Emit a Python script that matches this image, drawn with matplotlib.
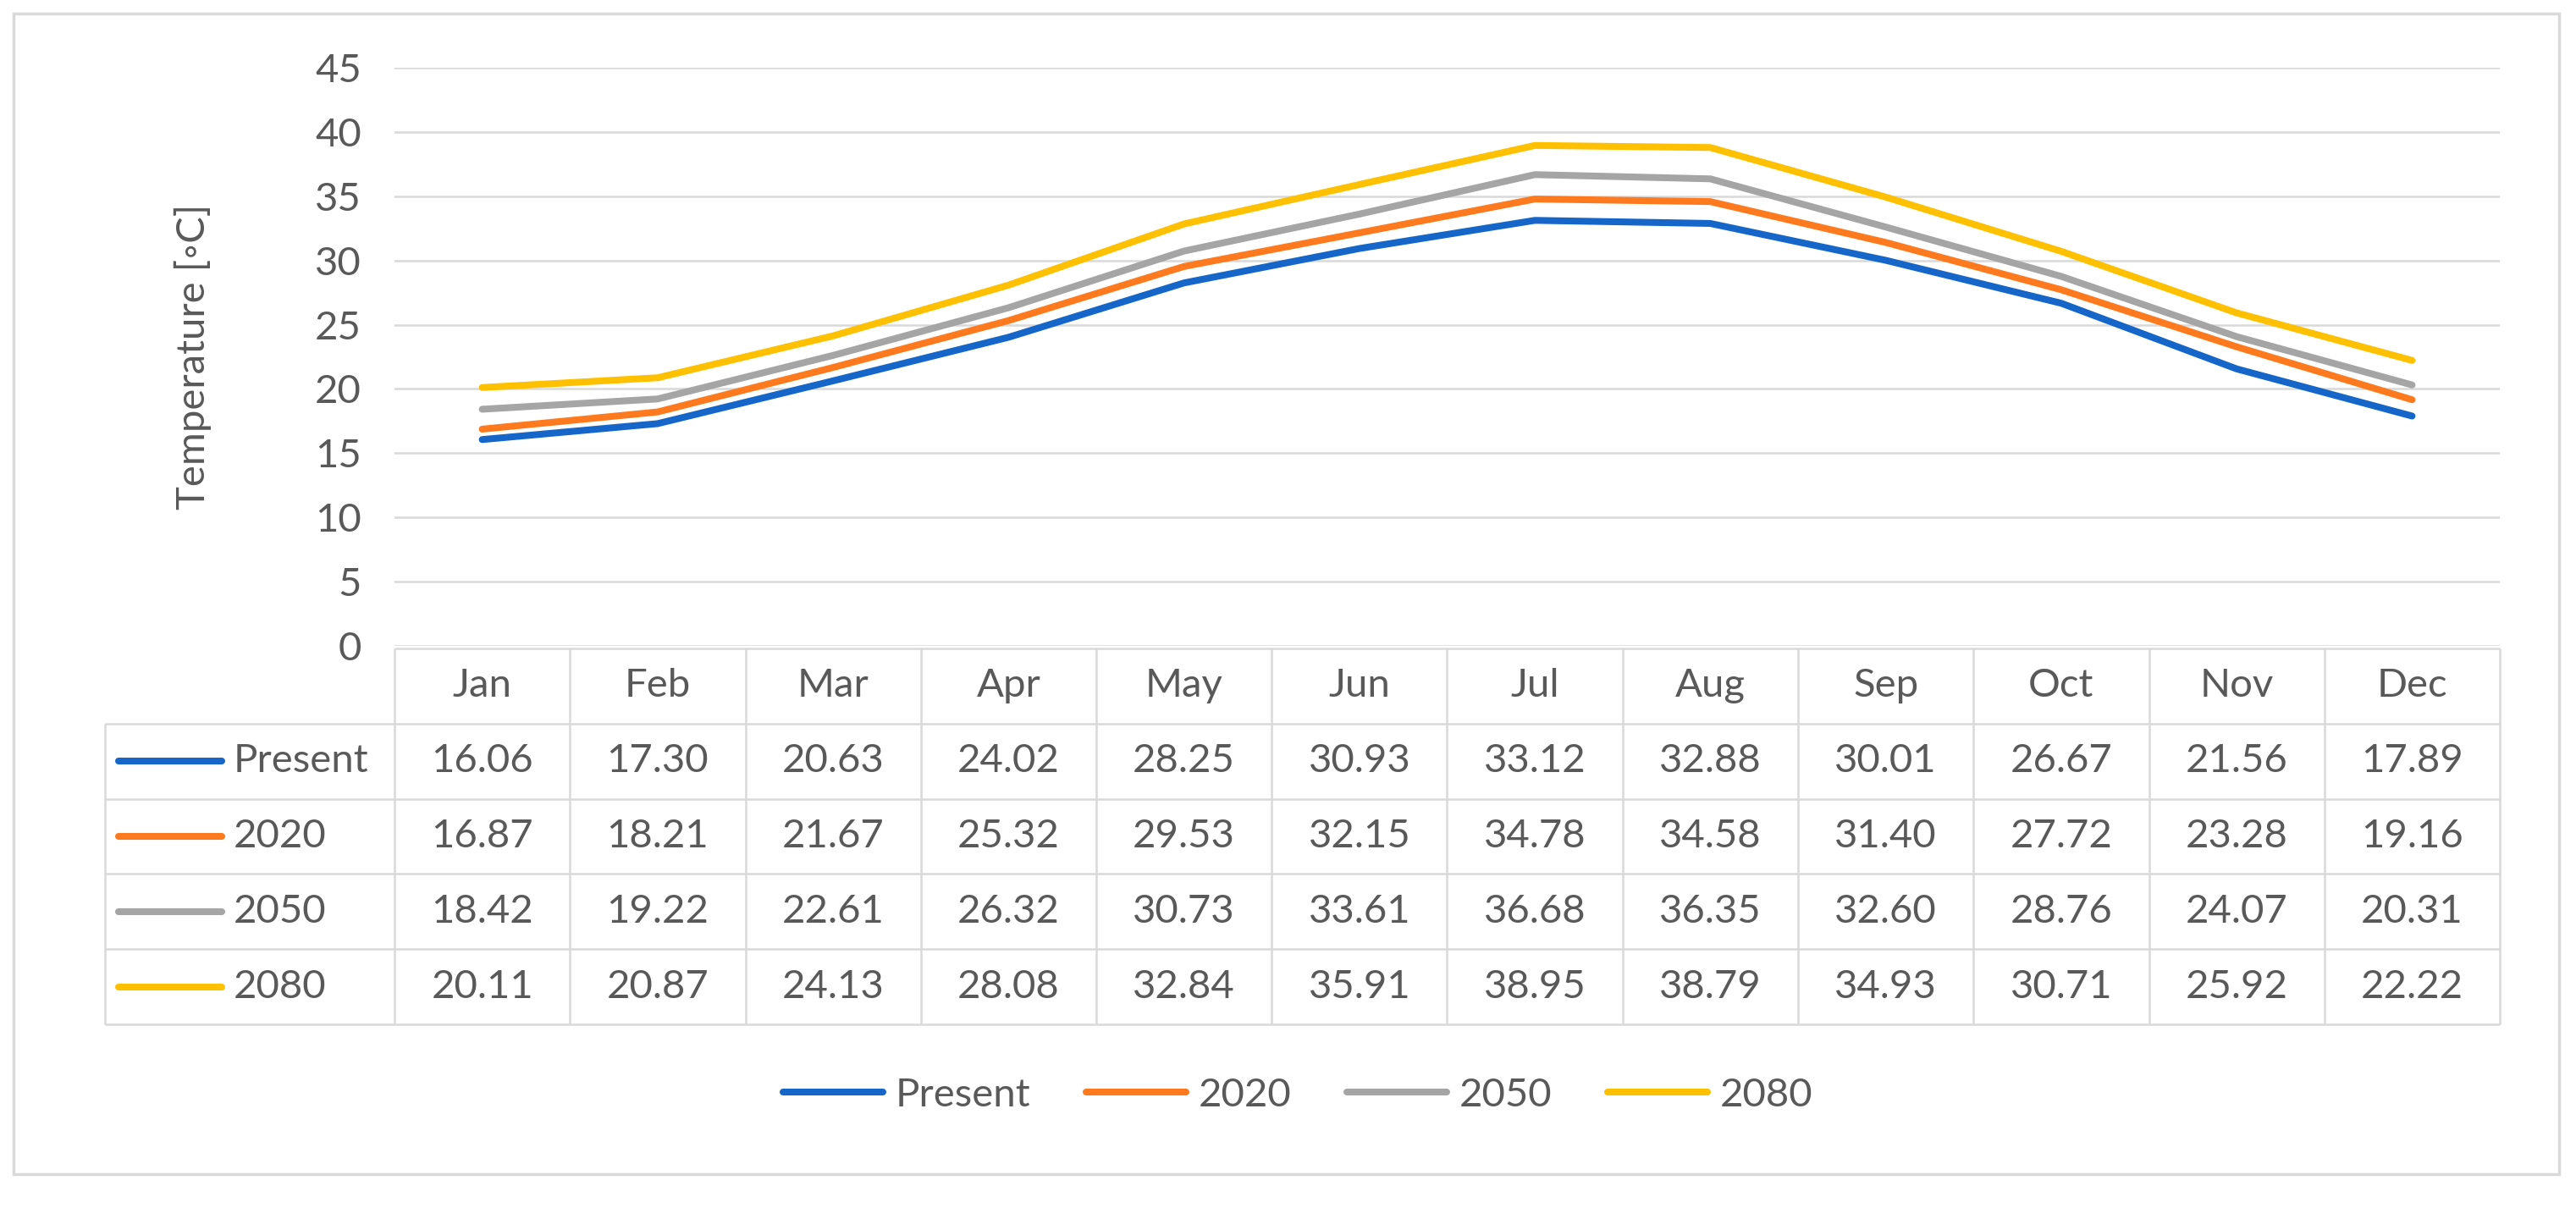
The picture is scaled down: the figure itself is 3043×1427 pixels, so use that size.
import matplotlib
matplotlib.use("Agg")
import matplotlib.pyplot as plt
from matplotlib.lines import Line2D
from matplotlib.patches import Rectangle

months = ["Jan", "Feb", "Mar", "Apr", "May", "Jun", "Jul", "Aug", "Sep", "Oct", "Nov", "Dec"]
series_names = ["Present", "2020", "2050", "2080"]
present = [16.06, 17.30, 20.63, 24.02, 28.25, 30.93, 33.12, 32.88, 30.01, 26.67, 21.56, 17.89]
y2020 = [16.87, 18.21, 21.67, 25.32, 29.53, 32.15, 34.78, 34.58, 31.40, 27.72, 23.28, 19.16]
y2050 = [18.42, 19.22, 22.61, 26.32, 30.73, 33.61, 36.68, 36.35, 32.60, 28.76, 24.07, 20.31]
y2080 = [20.11, 20.87, 24.13, 28.08, 32.84, 35.91, 38.95, 38.79, 34.93, 30.71, 25.92, 22.22]
yticks = [0, 5, 10, 15, 20, 25, 30, 35, 40, 45]
ylabel = "Temperature [\u25e6C]"

series = [present, y2020, y2050, y2080]
colors = ["#1566C8", "#FF7A1F", "#A5A5A5", "#FFC000"]

TXT = "#595959"
GRID = "#D9D9D9"
FS = 34
plt.rcParams["font.family"] = ["Lato", "DejaVu Sans"]

W, H = 3043, 1427
fig = plt.figure(figsize=(W / 100, H / 100), dpi=100)

def fx(px):
    return px / W

def fy(py):
    return 1 - py / H

# outer frame
fig.patches.append(Rectangle((fx(16), fy(1387)), fx(3023) - fx(16), fy(16) - fy(1387),
                             transform=fig.transFigure, fill=False, edgecolor=GRID, lw=2.5))

# main chart
x_left, x_right = 466, 2953
y_top, y_bot = 80, 763
ax = fig.add_axes([fx(x_left), fy(y_bot), fx(x_right) - fx(x_left), fy(y_top) - fy(y_bot)])
ax.set_xlim(-0.5, len(months) - 0.5)
ax.set_ylim(0, 45)
ax.set_yticks(yticks)
ax.set_xticks([])
for s in ax.spines.values():
    s.set_visible(False)
ax.yaxis.grid(True, color=GRID, lw=1.8)
ax.set_axisbelow(True)
ax.tick_params(axis="y", length=0, pad=28, labelsize=FS, labelcolor=TXT)
xs = list(range(len(months)))
for name, vals, c in zip(series_names, series, colors):
    ax.plot(xs, vals, color=c, lw=5.8, solid_capstyle="round", label=name)
ax.set_ylabel(ylabel, fontsize=FS, color=TXT)
ax.yaxis.set_label_coords((250 - x_left) / (x_right - x_left), 0.5)

# table
t_left, t_top, t_bot = 124, 766, 1210
col_w = (x_right - x_left) / len(months)
lab_w = (x_left - t_left) / col_w
tax = fig.add_axes([fx(t_left), fy(t_bot), fx(x_right) - fx(t_left), fy(t_top) - fy(t_bot)])
tax.set_xlim(-0.5 - lab_w, len(months) - 0.5)
tax.set_ylim(len(series) + 1, 0)
tax.axis("off")
nrows = len(series) + 1
L = -0.5 - lab_w
R = len(months) - 0.5
kw = dict(color=GRID, lw=1.8, clip_on=False, solid_capstyle="butt")
tax.plot([-0.5, R], [0, 0], **kw)
for r in range(1, nrows + 1):
    tax.plot([L, R], [r, r], **kw)
for k in range(len(months) + 1):
    tax.plot([-0.5 + k, -0.5 + k], [0, nrows], **kw)
tax.plot([L, L], [1, nrows], **kw)
for i, m in enumerate(months):
    tax.text(i, 0.5, m, ha="center", va="center", fontsize=FS, color=TXT)
for r, (name, vals, c) in enumerate(zip(series_names, series, colors), start=1):
    tax.plot([L + 16 / col_w, L + 138 / col_w], [r + 0.5, r + 0.5], color=c, lw=5.8,
             solid_capstyle="round", clip_on=False)
    tax.text(L + 152 / col_w, r + 0.5, name, ha="left", va="center", fontsize=FS, color=TXT)
    for i, v in enumerate(vals):
        tax.text(i, r + 0.5, f"{v:.2f}", ha="center", va="center", fontsize=FS, color=TXT)

# legend
handles = [Line2D([], [], color=c, lw=5.8, solid_capstyle="round") for c in colors]
fig.legend(handles, series_names, loc="center", bbox_to_anchor=(fx(1533), fy(1294)),
           ncol=4, frameon=False, fontsize=FS, labelcolor=TXT, handlelength=2.5,
           handletextpad=0.3, columnspacing=1.4)

fig.savefig("out.png", dpi=100, facecolor="white")
